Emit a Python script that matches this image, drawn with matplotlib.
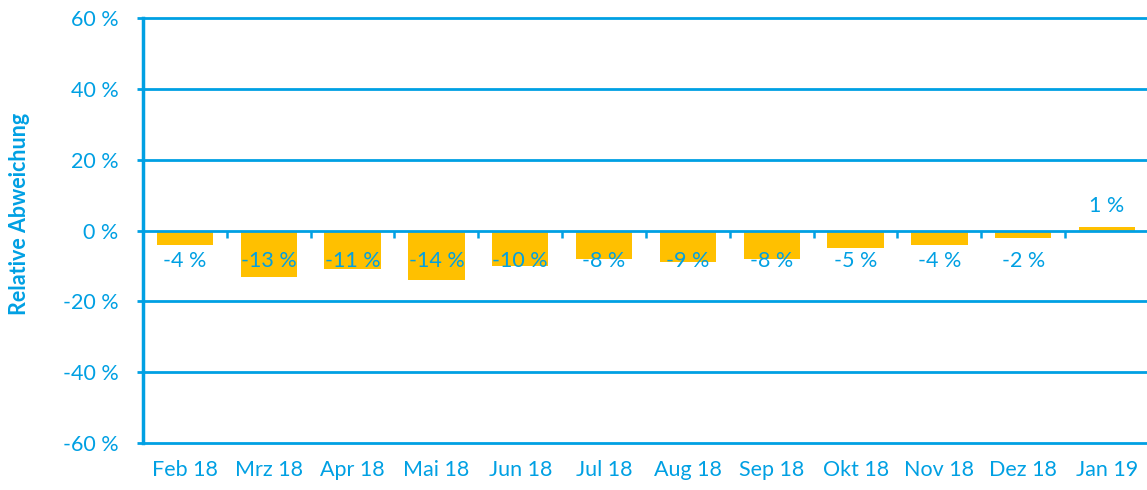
import matplotlib
matplotlib.use("Agg")
import matplotlib.pyplot as plt
import numpy as np

categories = ["Feb 18", "Mrz 18", "Apr 18", "Mai 18", "Jun 18", "Jul 18",
              "Aug 18", "Sep 18", "Okt 18", "Nov 18", "Dez 18", "Jan 19"]
values = [-4, -13, -11, -14, -10, -8, -9, -8, -5, -4, -2, 1]
yticks = [-60, -40, -20, 0, 20, 40, 60]
ylabel = "Relative Abweichung"

BLUE = "#00A0E3"
BAR = "#FFC000"

plt.rcParams['font.family'] = ['Lato', 'DejaVu Sans']

fig = plt.figure(figsize=(11.47, 4.9), dpi=100)
ax = fig.add_axes([143/1147, 1 - 443/490, 1006/1147, (443-18)/490])

x = np.arange(len(categories))
ax.bar(x, values, width=0.67, color=BAR, zorder=2)

ax.set_xlim(-0.5, len(categories) - 0.5)
ax.set_ylim(-60, 60)
ax.set_yticks(yticks)
ax.set_yticklabels([f"{t} %" for t in yticks])
ax.set_xticks(x)
ax.set_xticklabels(categories)

for t in yticks:
    ax.axhline(t, color=BLUE, lw=2, zorder=3, clip_on=False)

# category boundary ticks on the zero line
bounds = np.arange(0.5, len(categories) - 0.5, 1.0)
ax.vlines(bounds, -2.2, 0, color=BLUE, lw=1.8, zorder=3)

for xi, v in zip(x, values):
    ypos = -8.5 if v < 0 else 7
    ax.text(xi, ypos, f"{v} %", ha="center", va="center", color=BLUE,
            fontsize=15.5, zorder=4)

for s in ["top", "right", "bottom"]:
    ax.spines[s].set_visible(False)
ax.spines["left"].set_color(BLUE)
ax.spines["left"].set_linewidth(2.5)
ax.spines["left"].set_zorder(4)

ax.tick_params(axis="y", colors=BLUE, labelsize=15.5, length=4.5, width=2, pad=13)
ax.tick_params(axis="x", colors=BLUE, labelsize=15.5, length=0, pad=12)

fig.text(20/1147, 1 - 214/490, ylabel, rotation=90, ha="center", va="center",
         color=BLUE, fontsize=15.5, fontweight="bold")

fig.savefig("out.png", dpi=100)
